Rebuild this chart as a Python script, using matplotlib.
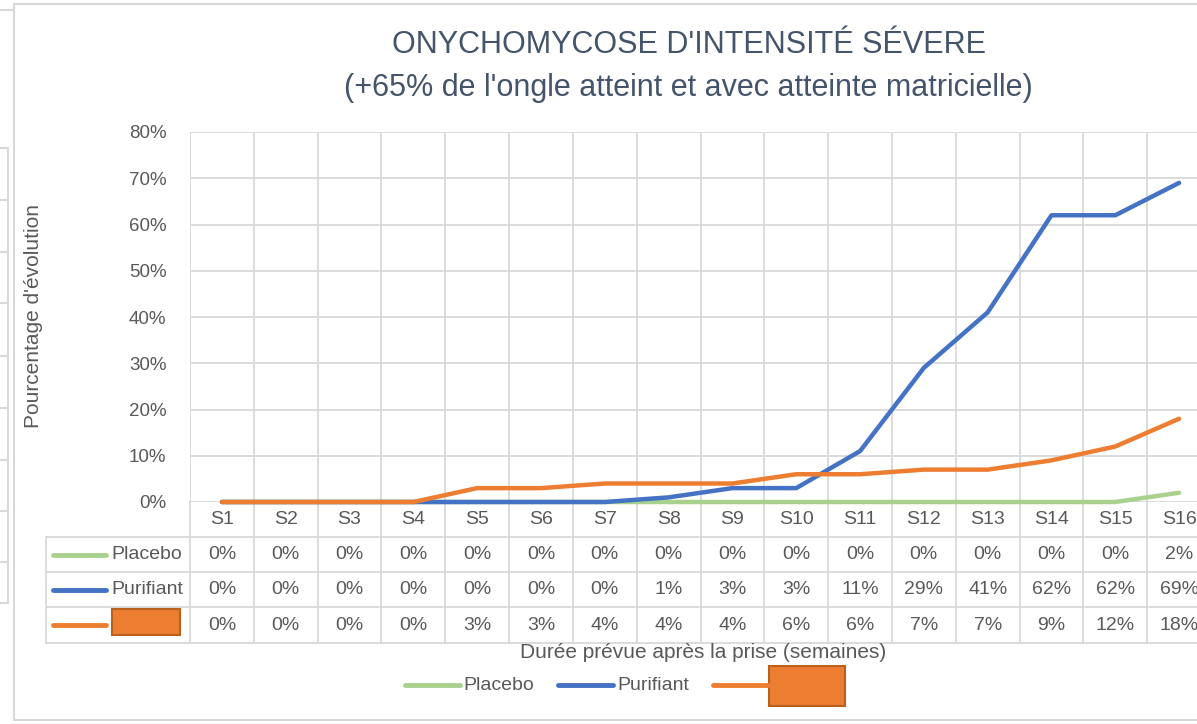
import numpy as np
import matplotlib
matplotlib.use("Agg")
from matplotlib import pyplot as plt
from matplotlib.lines import Line2D
from matplotlib.patches import Rectangle

plt.rcParams['font.family'] = ['Liberation Sans', 'DejaVu Sans']

# donnees (en %)
semaines = ["S1", "S2", "S3", "S4", "S5", "S6", "S7", "S8",
            "S9", "S10", "S11", "S12", "S13", "S14", "S15", "S16"]
placebo = [0, 0, 0, 0, 0, 0, 0, 0, 0, 0, 0, 0, 0, 0, 0, 2]
purifiant = [0, 0, 0, 0, 0, 0, 0, 1, 3, 3, 11, 29, 41, 62, 62, 69]
masque = [0, 0, 0, 0, 3, 3, 4, 4, 4, 6, 6, 7, 7, 9, 12, 18]
noms = ["Placebo", "Purifiant", ""]
couleurs = ["#A9D18E", "#4472C4", "#ED7D31"]

W, H = 1197, 724
GRIS = "#D9D9D9"
TXT = "#595959"


def fx(px):
    return px / W


def fy(py):
    return 1 - py / H


fig = plt.figure(figsize=(W / 100, H / 100), dpi=100)
fig.patch.set_facecolor("white")

# zone de trace (depasse a droite comme sur la capture)
x0, x1, ytop, ybot = 190, 1211, 132, 502
ax = fig.add_axes([fx(x0), fy(ybot), fx(x1) - fx(x0), fy(ytop) - fy(ybot)])
x = np.arange(1, len(semaines) + 1)
ax.set_xlim(0.5, len(semaines) + 0.5)
ax.set_ylim(0, 80)
ax.set_yticks(np.arange(0, 81, 10))
ax.set_yticklabels([f"{v}%" for v in range(0, 81, 10)])
ax.set_xticks([])
ax.set_xticks(np.arange(0.5, len(semaines) + 1, 1), minor=True)
ax.tick_params(axis="y", length=0, pad=17, labelsize=13.5, labelcolor=TXT)
ax.tick_params(axis="x", which="minor", length=0)
ax.grid(True, axis="y", color=GRIS, lw=1.3)
ax.grid(True, axis="x", which="minor", color=GRIS, lw=1.3)
for s in ax.spines.values():
    s.set_visible(False)
ax.set_axisbelow(True)

for serie, c in zip([placebo, purifiant, masque], couleurs):
    ax.plot(x, serie, color=c, lw=3.2, solid_capstyle="round", zorder=3, clip_on=False)

# tableau de donnees sous le graphique
tr = ax.get_xaxis_transform()
rows_px = [502, 537, 572, 607, 643]
rf = [(ybot - r) / (ybot - ytop) for r in rows_px]
colw = (x1 - x0) / len(semaines)
xleft = 0.5 + (46 - x0) / colw

for b in np.arange(0.5, len(semaines) + 1, 1):
    ax.plot([b, b], [0, rf[-1]], color=GRIS, lw=1.3, transform=tr, clip_on=False)
ax.plot([xleft, xleft], [rf[1], rf[-1]], color=GRIS, lw=1.3, transform=tr, clip_on=False)
for r in rf[1:]:
    ax.plot([xleft, len(semaines) + 0.5], [r, r], color=GRIS, lw=1.3, transform=tr, clip_on=False)

for xi, s in zip(x, semaines):
    ax.text(xi, (rf[0] + rf[1]) / 2, s, transform=tr, ha="center", va="center",
            fontsize=14, color=TXT, clip_on=False)

for i, (serie, c, nom) in enumerate(zip([placebo, purifiant, masque], couleurs, noms)):
    yc = (rf[i + 1] + rf[i + 2]) / 2
    for xi, v in zip(x, serie):
        ax.text(xi, yc, f"{v}%", transform=tr, ha="center", va="center",
                fontsize=14, color=TXT, clip_on=False)
    ypx = (rows_px[i + 1] + rows_px[i + 2]) / 2
    fig.add_artist(Line2D([fx(53), fx(106)], [fy(ypx), fy(ypx)], color=c, lw=3.5,
                          solid_capstyle="round"))
    if nom:
        fig.text(fx(111), fy(ypx), nom, ha="left", va="center", fontsize=14, color=TXT)
    else:
        fig.add_artist(Rectangle((fx(112), fy(635)), fx(180) - fx(112), fy(609) - fy(635),
                                 facecolor="#ED7D31", edgecolor="#B9601F", lw=1.5,
                                 transform=fig.transFigure))

# titres
fig.text(fx(689), fy(45), "ONYCHOMYCOSE D'INTENSITÉ SÉVERE", ha="center", va="center",
         fontsize=22, color="#44546A")
fig.text(fx(688), fy(88), "(+65% de l'ongle atteint et avec atteinte matricielle)",
         ha="center", va="center", fontsize=22, color="#44546A")
fig.text(fx(34), fy(316), "Pourcentage d'évolution", rotation=90, ha="center", va="center",
         fontsize=15, color=TXT)
fig.text(fx(703), fy(653), "Durée prévue après la prise (semaines)", ha="center", va="center",
         fontsize=15, color=TXT)

# legende
leg = [(405, 460, 463), (558, 613, 617), (713, 768, None)]
for (a, b, t), c, nom in zip(leg, couleurs, noms):
    fig.add_artist(Line2D([fx(a), fx(b)], [fy(685), fy(685)], color=c, lw=3.5,
                          solid_capstyle="round"))
    if t is not None:
        fig.text(fx(t), fy(685), nom, ha="left", va="center", fontsize=14, color=TXT)
fig.add_artist(Rectangle((fx(769), fy(706)), fx(845) - fx(769), fy(666) - fy(706),
                         facecolor="#ED7D31", edgecolor="#B9601F", lw=1.5,
                         transform=fig.transFigure))

# cadre du graphique et bout d'un autre tableau a gauche
fig.add_artist(Line2D([fx(14), fx(14), fx(1200), fx(1200), fx(14)],
                      [fy(4), fy(720), fy(720), fy(4), fy(4)], color=GRIS, lw=1.5))
fig.add_artist(Line2D([fx(0), fx(12)], [fy(10), fy(10)], color=GRIS, lw=1.5))
fig.add_artist(Line2D([fx(8), fx(8)], [fy(148), fy(603)], color=GRIS, lw=1.5))
for yy in [148, 200, 252, 303, 356, 408, 460, 511, 562, 603]:
    fig.add_artist(Line2D([fx(0), fx(8)], [fy(yy), fy(yy)], color=GRIS, lw=1.5))

fig.savefig("out.png", dpi=100)
